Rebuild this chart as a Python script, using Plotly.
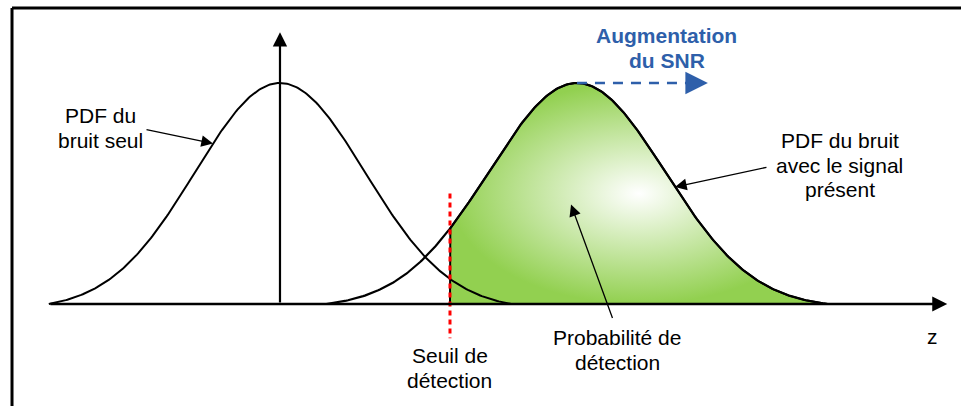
import numpy as np
import plotly.graph_objects as go

# ── Diagram values ────────────────────────────────────────────────────────────
# z is measured in units of the noise sigma, bell heights are normalised to 1
noise_mean   = 0.0
noise_sigma  = 1.0
noise_half   = 2.72     # half width over which the bell is drawn
signal_mean  = 3.494
signal_sigma = 1.035
signal_half  = 2.95
threshold    = 2.0      # "Seuil de détection"
snr_shift    = 1.54     # length of the "Augmentation du SNR" arrow

z_axis_start = -2.718
z_axis_end   = 7.85
y_axis_top   = 1.23

GREEN = "#92D050"
BLUE  = "#2E5FAA"
RED   = "#FF0000"
FONT  = "Arial, Liberation Sans, sans-serif"
LINE_STEP = 0.111       # text line spacing in y units


def bell_at(z, mean, sigma, half):
    # gaussian shifted so it meets the baseline at mean +/- half
    g = np.exp(-((np.asarray(z) - mean) ** 2) / (2 * sigma ** 2))
    g_end = np.exp(-(half ** 2) / (2 * sigma ** 2))
    return (g - g_end) / (1 - g_end)


def bell(mean, sigma, half, n=300):
    z = np.linspace(mean - half, mean + half, n)
    return z, bell_at(z, mean, sigma, half)


def on_noise(z):
    return float(bell_at(z, noise_mean, noise_sigma, noise_half))


def on_signal(z):
    return float(bell_at(z, signal_mean, signal_sigma, signal_half))


# ── Curves ────────────────────────────────────────────────────────────────────
noise_z, noise_y = bell(noise_mean, noise_sigma, noise_half)
signal_z, signal_y = bell(signal_mean, signal_sigma, signal_half)

det = signal_z >= threshold
fill_z = np.concatenate([[threshold, threshold], signal_z[det], [signal_z[-1]]])
fill_y = np.concatenate([[0, on_signal(threshold)], signal_y[det], [0]])

fig = go.Figure()

# detection probability area, radial white -> green
fig.add_trace(go.Scatter(
    x=fill_z, y=fill_y, mode="lines", fill="toself",
    fillgradient=dict(type="radial", colorscale=[[0, "#FFFFFF"], [1, GREEN]]),
    line=dict(color="black", width=2),
    hoverinfo="skip",
))
fig.add_trace(go.Scatter(
    x=noise_z, y=noise_y, mode="lines",
    line=dict(color="black", width=2), hoverinfo="skip",
))
fig.add_trace(go.Scatter(
    x=signal_z, y=signal_y, mode="lines",
    line=dict(color="black", width=2.2), hoverinfo="skip",
))
# threshold, red dotted
fig.add_trace(go.Scatter(
    x=[threshold, threshold], y=[0.50, -0.155], mode="lines",
    line=dict(color=RED, width=3, dash="5px,4px"), hoverinfo="skip",
))
# SNR shift, blue dashed
fig.add_trace(go.Scatter(
    x=[signal_mean, signal_mean + snr_shift - 0.2], y=[1, 1], mode="lines",
    line=dict(color=BLUE, width=2.5, dash="10px,8px"), hoverinfo="skip",
))


# ── Arrows & labels ───────────────────────────────────────────────────────────
def arrow(x, y, ax, ay, width=1.3, size=1.8, color="black"):
    return dict(x=x, y=y, ax=ax, ay=ay, xref="x", yref="y", axref="x", ayref="y",
                text="", showarrow=True, arrowhead=2, arrowsize=size,
                arrowwidth=width, arrowcolor=color, standoff=0)


def label(lines, x, y, color="black", bold=False):
    out = []
    for i, txt in enumerate(lines):
        if bold:
            txt = "<b>" + txt + "</b>"
        out.append(dict(x=x, y=y - i * LINE_STEP, xref="x", yref="y", text=txt,
                        showarrow=False, xanchor="center", yanchor="middle",
                        font=dict(family=FONT, size=21, color=color)))
    return out


annotations = [
    # axes
    arrow(z_axis_end, 0, z_axis_start, 0, width=2.5, size=1.2),
    arrow(noise_mean, y_axis_top, noise_mean, 0, width=2.2, size=1.3),
    # pointers
    arrow(-0.788, on_noise(-0.788), -1.588, 0.79),
    arrow(4.647, on_signal(4.647), 5.741, 0.62),
    arrow(3.424, 0.45, 3.918, -0.07),
    # SNR arrow head
    arrow(signal_mean + snr_shift, 1, signal_mean + snr_shift - 0.25, 1,
          width=2.5, size=1.8, color=BLUE),
]
annotations += label(["PDF du", "bruit seul"], -2.106, 0.851)
annotations += label(["PDF du bruit", "avec le signal", "présent"], 6.588, 0.740)
annotations += label(["Seuil de", "détection"], threshold, -0.233)
annotations += label(["Probabilité de", "détection"], 3.965, -0.152)
annotations += label(["z"], 7.682, -0.149)
annotations += label(["Augmentation", "du SNR"], 4.553, 1.215, color=BLUE, bold=True)

fig.update_layout(
    width=961, height=406,
    margin=dict(l=0, r=0, t=0, b=0),
    paper_bgcolor="white", plot_bgcolor="white",
    showlegend=False,
    xaxis=dict(range=[-3.294, 8.012], visible=False, fixedrange=True),
    yaxis=dict(range=[-0.4615, 1.3756], visible=False, fixedrange=True),
    annotations=annotations,
    shapes=[
        dict(type="line", xref="paper", yref="paper", x0=0.0125, y0=0,
             x1=0.0125, y1=0.9803, line=dict(color="black", width=3)),
        dict(type="line", xref="paper", yref="paper", x0=0.0125, y0=0.9803,
             x1=1, y1=0.9803, line=dict(color="black", width=3)),
    ],
)

# drop the default page margin so the figure sits at the window origin
fig.write_html("out.html", config={"displayModeBar": False},
               post_script="document.body.style.margin = '0';")
